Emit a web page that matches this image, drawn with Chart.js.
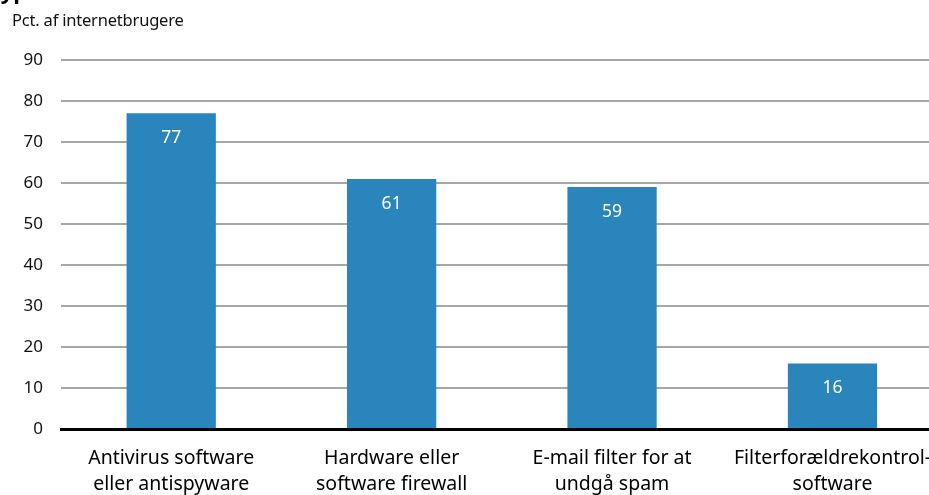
<!DOCTYPE html>
<html>
<head>
<meta charset="utf-8">
<script src="https://cdn.jsdelivr.net/npm/chart.js@4/dist/chart.umd.min.js"></script>
<style>
  html, body { margin: 0; padding: 0; background: #fff; overflow: hidden; width: 929px; height: 495px; }
  #wrap { position: absolute; left: 0; top: 0; width: 948px; height: 515px; }
  #title { position: absolute; left: -12px; top: -25px; font: bold 22px "Open Sans", sans-serif; color: #000; white-space: nowrap; }
  #unit { position: absolute; left: 12px; top: 8px; font: 16.5px "Noto Sans", sans-serif; color: #111; letter-spacing: -0.2px; }
</style>
</head>
<body>
<div id="wrap"><canvas id="c"></canvas></div>
<div id="title">Typer af sikkerhedssoftware</div>
<div id="unit">Pct. af internetbrugere</div>
<script>
// kategorier og værdier
const categories = [
  ['Antivirus software', 'eller antispyware'],
  ['Hardware eller', 'software firewall'],
  ['E-mail filter for at', 'undgå spam'],
  ['Filterforældrekontrol-', 'software']
];
const values = [77, 61, 59, 16];
const yTicks = [0, 10, 20, 30, 40, 50, 60, 70, 80, 90];

const barColor = '#2985bb';

// tal inde i søjlerne
const valueLabels = {
  id: 'valueLabels',
  afterDatasetsDraw(chart) {
    const ctx = chart.ctx;
    const meta = chart.getDatasetMeta(0);
    ctx.save();
    ctx.fillStyle = '#fff';
    ctx.font = '17.5px "Noto Sans", sans-serif';
    ctx.textAlign = 'center';
    ctx.textBaseline = 'middle';
    meta.data.forEach((bar, i) => {
      ctx.fillText(values[i], bar.x, bar.y + 25);
    });
    ctx.restore();
  }
};

new Chart(document.getElementById('c'), {
  type: 'bar',
  data: {
    labels: categories,
    datasets: [{
      data: values,
      backgroundColor: barColor,
      barPercentage: 0.405,
      categoryPercentage: 1
    }]
  },
  options: {
    responsive: true,
    maintainAspectRatio: false,
    animation: false,
    layout: { padding: { top: 60, left: 0, right: 0, bottom: 0 } },
    plugins: { legend: { display: false }, tooltip: { enabled: false } },
    scales: {
      x: {
        grid: { display: false, drawTicks: false },
        border: { display: true, color: '#000', width: 3 },
        ticks: {
          color: '#000',
          padding: 17,
          font: { family: '"Noto Sans", sans-serif', size: 19.5, lineHeight: 1.3 }
        },
        afterFit(scale) { scale.height = 515 - 429; }
      },
      y: {
        min: 0,
        max: 90,
        afterBuildTicks(scale) { scale.ticks = yTicks.map(v => ({ value: v })); },
        grid: {
          drawTicks: false,
          lineWidth: 2,
          color: ctx => ctx.tick && ctx.tick.value === 0 ? 'rgba(0,0,0,0)' : '#a6a6a6'
        },
        border: { display: false },
        ticks: {
          color: '#111',
          padding: 18,
          font: { family: '"Noto Sans", sans-serif', size: 17 }
        },
        afterFit(scale) { scale.width = 61; }
      }
    }
  },
  plugins: [valueLabels]
});
</script>
</body>
</html>
